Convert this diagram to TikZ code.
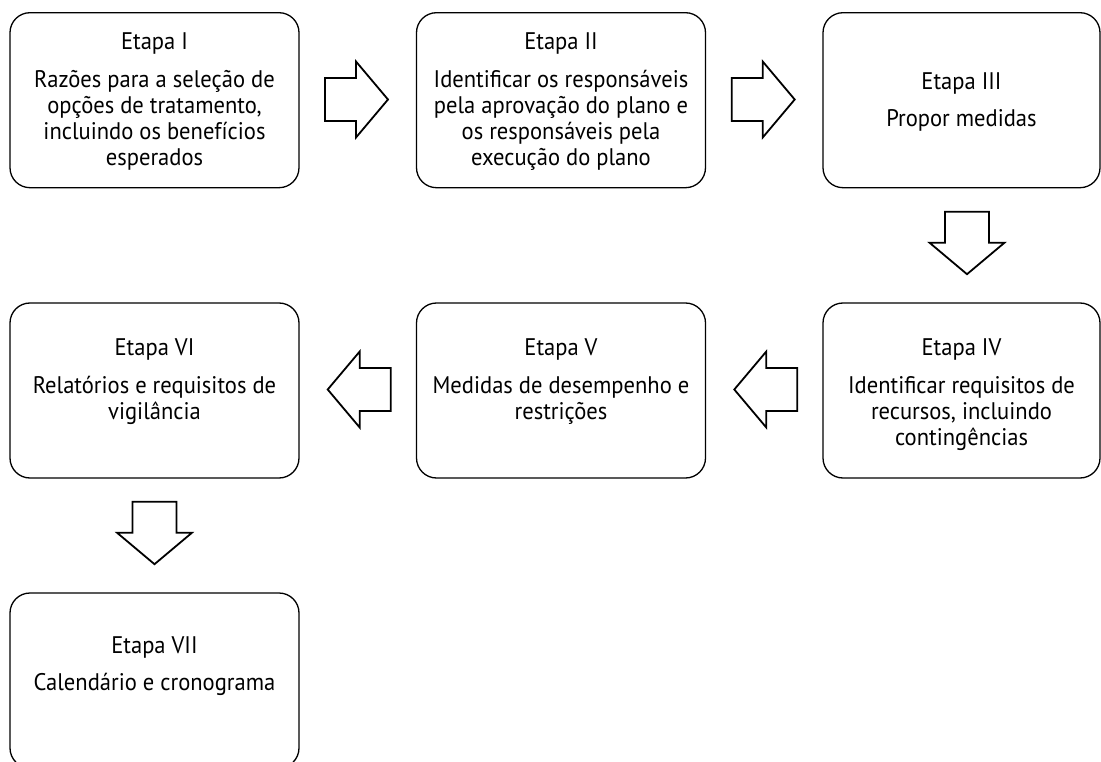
\documentclass[tikz,border=0pt]{standalone}
\usepackage{fontspec}
\setmainfont[FakeStretch=0.94]{PT Sans}
\begin{document}
\begin{tikzpicture}[x=1pt,y=-1pt,
  stage/.style={draw=black, line width=1.3pt, rounded corners=20pt,
    minimum height=175pt, inner sep=0pt},
  wide/.style={minimum width=289pt},
  narrow/.style={minimum width=277pt},
  % a multi-line node sits on the baseline of its last line
  txt/.style={anchor=base, align=center, inner sep=0pt,
    font=\fontsize{24}{26.2}\selectfont},
  blockarrow/.style={draw=black, line width=1.8pt, fill=white, line join=miter},
  rarrow/.pic={\draw[blockarrow] (0,-21.5) -- (31,-21.5) -- (31,-38) -- (63,0)
      -- (31,38) -- (31,21.5) -- (0,21.5) -- cycle;},
  larrow/.pic={\draw[blockarrow] (0,-21.5) -- (-31,-21.5) -- (-31,-38) -- (-63,0)
      -- (-31,38) -- (-31,21.5) -- (0,21.5) -- cycle;},
  darrow/.pic={\draw[blockarrow] (-22,0) -- (-22,31) -- (-37.5,31) -- (0,62.5)
      -- (37.5,31) -- (22,31) -- (22,0) -- cycle;}]
\useasboundingbox (0,0) rectangle (1101,762);

% stage boxes
\node[stage, wide]   (s1) at (154.5,100.2) {};
\node[stage, wide]   (s2) at (561,100.2) {};
\node[stage, narrow] (s3) at (961.5,100.2) {};
\node[stage, narrow] (s4) at (961.5,390.5) {};
\node[stage, wide]   (s5) at (561,390.5) {};
\node[stage, wide]   (s6) at (154.5,390.5) {};
\node[stage, wide]   (s7) at (154.5,680.5) {};

% titles and descriptions
\node[txt] (t1) at (s1.center |- 0,50) {Etapa I};
\node[txt] (d1) at (s1.center |- 0,166) {Razões para a seleção de\\opções de tratamento,\\incluindo os benefícios\\esperados};
\node[txt] (t2) at (s2.center |- 0,50) {Etapa II};
\node[txt] (d2) at (s2.center |- 0,166) {Identificar os responsáveis\\pela aprovação do plano e\\os responsáveis pela\\execução do plano};
\node[txt] (t3) at (s3.center |- 0,89.3) {Etapa III};
\node[txt] (d3) at (s3.center |- 0,127) {Propor medidas};
\node[txt] (t4) at (s4.center |- 0,355) {Etapa IV};
\node[txt] (d4) at (s4.center |- 0,445.7) {Identificar requisitos de\\recursos, incluindo\\contingências};
\node[txt] (t5) at (s5.center |- 0,355) {Etapa V};
\node[txt] (d5) at (s5.center |- 0,419.5) {Medidas de desempenho e\\restrições};
\node[txt] (t6) at (s6.center |- 0,355) {Etapa VI};
\node[txt] (d6) at (s6.center |- 0,419.5) {Relatórios e requisitos de\\vigilância};
\node[txt] (t7) at (s7.center |- 0,653.3) {Etapa VII};
\node[txt] (d7) at (s7.center |- 0,690) {Calendário e cronograma};

% block arrows between the stages
\pic at (325,99.5) {rarrow};
\pic at (731.7,99.5) {rarrow};
\pic at (967,211.7) {darrow};
\pic at (797.3,389.5) {larrow};
\pic at (390.7,389.5) {larrow};
\pic at (154.5,501.7) {darrow};
\end{tikzpicture}
\end{document}
